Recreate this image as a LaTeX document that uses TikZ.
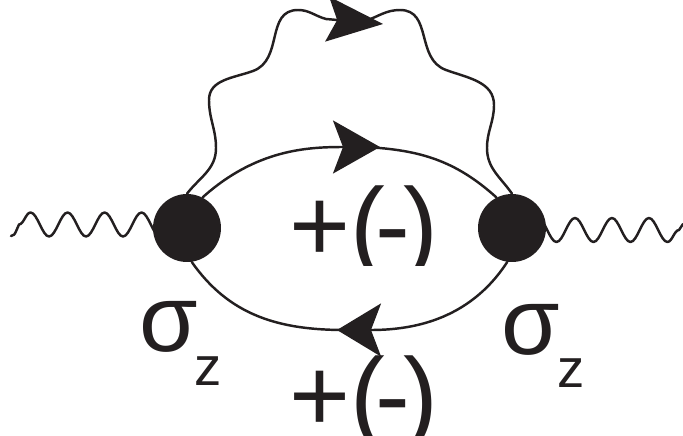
\documentclass[tikz,border=0pt]{standalone}
\usepackage{fontspec}
\setmainfont{Liberation Sans}
\usetikzlibrary{arrows.meta,decorations.pathmorphing}
\definecolor{inkblack}{RGB}{35,31,32}
\tikzset{
  wire/.style={inkblack,line width=1.4pt,line cap=round,line join=round},
  wavy/.style={decoration={snake,segment length=0.74cm,amplitude=0.24cm}},
  vertex/.style={circle,fill=inkblack,inner sep=0pt,minimum size=1.36cm},
  bigtip/.style 2 args={-{Stealth[length=#1,width=#2,inset=0.2cm,sep=0pt]}},
  spinlabel/.style={inkblack,inner sep=0pt,anchor=base west,font=\fontsize{59.5}{60}\selectfont},
  sigmalabel/.style={inkblack,inner sep=0pt,anchor=base west,font=\fontsize{54}{54}\selectfont},
  sublabel/.style={inkblack,inner sep=0pt,anchor=base west,font=\fontsize{31}{31}\selectfont},
}
\begin{document}
\begin{tikzpicture}[x=0.02cm,y=-0.02cm]
\useasboundingbox (0,0) rectangle (683,436);

% ---------- vertices and free ends ----------
\node[vertex] (dotL) at (187,228) {};
\node[vertex] (dotR) at (512,228) {};
\coordinate (endL) at (11,236);
\coordinate (startL) at (19,224.5);
\coordinate (endR) at (683,224);
\coordinate (startR) at (679,230);
\coordinate (tipTop) at (383,24);
\coordinate (tipMid) at (380,147);
\coordinate (tipBot) at (337,330);

% ---------- external wavy lines ----------
\draw[wire] (endL) .. controls (14,236) .. (startL)
  decorate[wavy]{-- (startL -| dotL)};
\draw[wire] (endR) -- (startR)
  decorate[wavy]{-- (startR -| dotR)};

% ---------- wiggly line over the loop ----------
\draw[wire,bigtip={1.12cm}{0.9cm}] (dotL.north) to[out=52,in=-90] (216,148)
  to[out=90,in=-90] (209,100) to[out=90,in=200] (253,71)
  to[out=20,in=180,looseness=1.1] (298,10) to[out=0,in=165] (326,19) -- (tipTop);
\draw[wire] (365,21) to[out=18,in=180] (400,10)
  to[out=0,in=160,looseness=1.1] (446,70) to[out=-20,in=90] (494,105)
  to[out=-90,in=90] (487,148) to[out=-90,in=125] (dotR.north);

% ---------- loop ----------
\draw[wire,bigtip={0.94cm}{1.06cm}] (dotL.63) to[out=42,in=180] (tipMid);
\draw[wire] (365,147) to[out=-3,in=138] (dotR.117);
\draw[wire,bigtip={0.88cm}{1.06cm}] (dotR.-98) to[out=-123,in=0] (tipBot);
\draw[wire] (345,330) to[out=180,in=-55] (dotL.-82);

% ---------- labels ----------
\begin{scope}
  \clip (270,183) rectangle (450,265) (270,353) rectangle (450,436);
  \node[spinlabel] (spinTop) at (289,261) {+(\kern-5.5pt-\kern-4pt)};
  \node[spinlabel] (spinBot) at (289,431) {+(\kern-5.5pt-\kern-4pt)};
\end{scope}
\node[sigmalabel] (sigmaL) at (139,351) {σ};
\node[sublabel] (subL) at (194,385) {z};
\node[sigmalabel] (sigmaR) at (501,354) {σ};
\node[sublabel] (subR) at (557,387) {z};
\end{tikzpicture}
\end{document}
